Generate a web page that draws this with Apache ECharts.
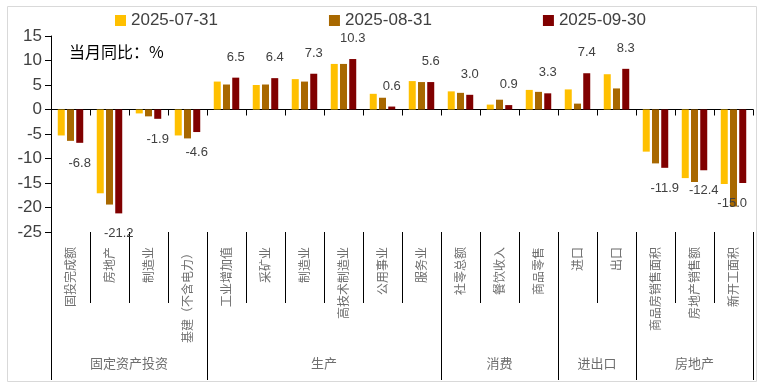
<!DOCTYPE html>
<html>
<head>
<meta charset="utf-8">
<script src="https://cdn.jsdelivr.net/npm/echarts@6/dist/echarts.min.js"></script>
<style>
html,body{margin:0;padding:0;background:#fff;}
#chart{width:758px;height:384px;}
</style>
</head>
<body>
<div id="chart"></div>
<script>
var categories = ['固投完成额','房地产','制造业','基建（不含电力）','工业增加值','采矿业','制造业','高技术制造业','公用事业','服务业','社零总额','餐饮收入','商品零售','进口','出口','商品房销售面积','房地产销售额','新开工面积'];
var groupNames = ['固定资产投资','生产','消费','进出口','房地产'];
var groupSizes = [4, 6, 3, 2, 3];
var seriesNames = ['2025-07-31','2025-08-31','2025-09-30'];
var valuesJul = [-5.3,-17.1,-0.8,-5.3,5.7,5.0,6.2,9.3,3.2,5.8,3.7,1.0,4.0,4.1,7.2,-8.6,-14.0,-15.2];
var valuesAug = [-6.4,-19.4,-1.4,-5.9,5.1,5.1,5.7,9.3,2.4,5.6,3.4,2.0,3.6,1.2,4.3,-11.0,-14.8,-19.8];
var valuesSep = [-6.8,-21.2,-1.9,-4.6,6.5,6.4,7.3,10.3,0.6,5.6,3.0,0.9,3.3,7.4,8.3,-11.9,-12.4,-15.0];
var yTicks = [-25,-20,-15,-10,-5,0,5,10,15];
var colors = ['#FFC000','#A86800','#800000'];

var boundaries = [0];
var centers = [];
groupSizes.forEach(function(s){
  var start = boundaries[boundaries.length-1];
  centers.push(start + s/2);
  boundaries.push(start + s);
});
var nCat = categories.length;

var chart = echarts.init(document.getElementById('chart'));
var labelSep = valuesSep.map(function(v){
  return {value: v, label: {position: v < 0 ? 'bottom' : 'top'}};
});
var option = {
  animation: false,
  textStyle: {fontFamily: 'Liberation Sans, Arial, sans-serif'},
  legend: {
    left: 115, top: 12, padding: 0,
    itemWidth: 11, itemHeight: 11, itemGap: 111,
    icon: 'rect',
    textStyle: {fontSize: 17, color: '#404040', fontFamily: 'Liberation Sans, Arial, sans-serif'},
    data: seriesNames
  },
  graphic: [
    {type: 'rect', left: 5, top: 4, shape: {width: 749, height: 375}, style: {fill: 'none', stroke: '#d9d9d9', lineWidth: 1}, silent: true, z: -1},
    {type: 'text', left: 69, top: 44, style: {text: '当月同比：%', fontSize: 16, fill: '#000', fontFamily: 'Noto Sans CJK SC'}}
  ],
  grid: {left: 51, right: 5, top: 36, bottom: 152, containLabel: false},
  xAxis: [
    {
      type: 'category', data: categories, position: 'bottom',
      axisLine: {onZero: true, lineStyle: {color: '#000', width: 1}},
      axisTick: {show: true, interval: 0, length: 6, lineStyle: {color: '#000'}},
      axisLabel: {show: false},
      splitLine: {show: false}
    },
    {
      type: 'category', data: categories, position: 'bottom',
      axisLine: {show: false, onZero: false},
      axisTick: {show: true, interval: 0, length: 71, lineStyle: {color: '#000'}},
      axisLabel: {show: true, interval: 0, rotate: 90, margin: 15, fontSize: 12, color: '#6e6e6e', fontFamily: 'Noto Sans CJK SC'},
      splitLine: {show: false}
    },
    {
      type: 'value', min: 0, max: nCat, position: 'bottom',
      axisLine: {show: false, onZero: false},
      axisTick: {show: true, length: 148, customValues: boundaries, lineStyle: {color: '#000'}},
      axisLabel: {show: true, customValues: centers, margin: 125, fontSize: 13, color: '#6e6e6e', fontFamily: 'Noto Sans CJK SC',
        formatter: function(v){ var i = centers.indexOf(v); return i >= 0 ? groupNames[i] : ''; }},
      splitLine: {show: false}
    }
  ],
  yAxis: {
    type: 'value', min: yTicks[0], max: yTicks[yTicks.length-1], interval: 5,
    axisLine: {show: true, lineStyle: {color: '#000'}},
    axisTick: {show: true, length: 6, lineStyle: {color: '#000'}},
    axisLabel: {fontSize: 17, color: '#404040', margin: 9},
    splitLine: {show: false}
  },
  series: [
    {name: seriesNames[0], type: 'bar', xAxisIndex: 0, data: valuesJul, barWidth: 7, barGap: '32%', itemStyle: {color: colors[0]}},
    {name: seriesNames[1], type: 'bar', xAxisIndex: 0, data: valuesAug, barWidth: 7, barGap: '32%', itemStyle: {color: colors[1]}},
    {name: seriesNames[2], type: 'bar', xAxisIndex: 0, data: labelSep, barWidth: 7, barGap: '32%', itemStyle: {color: colors[2]},
      label: {show: true, distance: 14, fontSize: 13, color: '#404040', formatter: function(p){ return p.value.toFixed(1); }},
      labelLayout: function(p){
        var r = p.labelRect;
        if (r.x + r.width > 747) { return {x: 747, align: 'right'}; }
        return {};
      }}
  ]
};
chart.setOption(option);
</script>
</body>
</html>
